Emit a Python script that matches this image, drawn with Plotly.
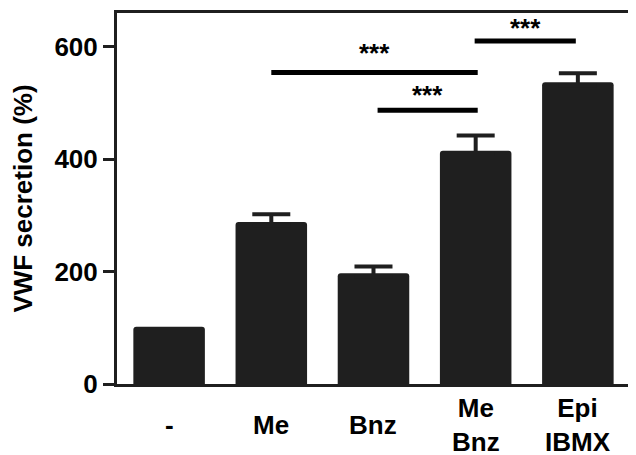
import plotly.graph_objects as go

# ---- data ----
categories = ["-", "Me", "Bnz", "Me<br>Bnz", "Epi<br>IBMX"]
values = [102, 288, 197, 415, 537]
errors = [0, 14, 12, 27, 16]
y_tick_vals = [0, 200, 400, 600]
y_tick_text = ["0", "200", "400", "600"]

# significance brackets (category index positions, heights in data units)
sig_start = [1.0, 2.04, 2.99]
sig_end = [3.02, 3.02, 3.98]
sig_height = [554, 487, 610]
sig_label_height = [588, 515, 634]
sig_label = ["***", "***", "***"]

FONT = "Liberation Sans, Arial, sans-serif"
DARK = "#1f1f1f"
PAGE_OFFSET = 8  # default body margin of the html page

x_idx = list(range(len(categories)))

fig = go.Figure()
fig.add_trace(go.Bar(
    x=x_idx, y=values, width=0.70,
    marker=dict(color=DARK, line=dict(width=0), cornerradius=3),
    showlegend=False,
))

ex = [i for i, e in enumerate(errors) if e > 0]
fig.add_trace(go.Scatter(
    x=ex, y=[values[i] for i in ex], mode="markers",
    marker=dict(size=1, color=DARK, opacity=0),
    error_y=dict(type="data", symmetric=False, array=[errors[i] for i in ex],
                 arrayminus=[6 for _ in ex],
                 visible=True, color=DARK, thickness=4, width=19),
    showlegend=False, hoverinfo="skip",
))

for x0, x1, h, lh, lab in zip(sig_start, sig_end, sig_height, sig_label_height, sig_label):
    fig.add_trace(go.Scatter(x=[x0, x1], y=[h, h], mode="lines",
                             line=dict(color="black", width=5),
                             showlegend=False, hoverinfo="skip"))
    fig.add_annotation(x=(x0 + x1) / 2, y=lh, xref="x", yref="y",
                       text=lab, showarrow=False, yanchor="middle",
                       font=dict(family=FONT, size=26, color="black", weight="bold"))

for i, lab in enumerate(categories):
    fig.add_annotation(x=i, y=-0.111, xref="x", yref="paper", text=lab,
                       showarrow=False, yanchor="middle",
                       font=dict(family=FONT, size=26, color="black", weight="bold"))

fig.update_layout(
    width=636 - PAGE_OFFSET, height=455 - PAGE_OFFSET,
    margin=dict(l=117 - PAGE_OFFSET, r=3, t=10 - PAGE_OFFSET, b=71),
    plot_bgcolor="white", paper_bgcolor="white",
    font=dict(family=FONT, size=26, color="black"),
)
fig.update_xaxes(range=[-0.51, 4.52], showticklabels=False, ticks="",
                 showline=True, linecolor=DARK, linewidth=3, mirror=True,
                 showgrid=False, zeroline=False)
fig.update_yaxes(range=[0, 660], tickvals=y_tick_vals, ticktext=y_tick_text,
                 ticks="outside", ticklen=11, tickwidth=3, tickcolor=DARK,
                 showline=True, linecolor=DARK, linewidth=3, mirror=True,
                 showgrid=False, zeroline=False,
                 tickfont=dict(family=FONT, size=26, color="black", weight="bold"),
                 title=dict(text="VWF secretion (%)", standoff=23,
                            font=dict(family=FONT, size=26, color="black", weight="bold")))

fig.write_html("out.html")
